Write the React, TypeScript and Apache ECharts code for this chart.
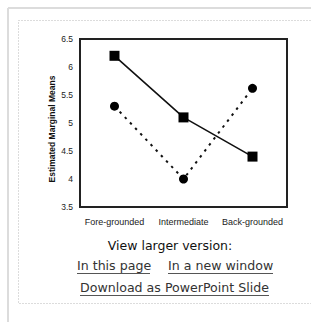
import React, { useEffect, useRef } from "react";
import * as echarts from "echarts";

const categories = ["Fore-grounded", "Intermediate", "Back-grounded"];
const squareSeries = [6.2, 5.1, 4.4];
const circleSeries = [5.3, 4.0, 5.62];
const yAxisTitle = "Estimated Marginal Means";
const captionTitle = "View larger version:";
const linkTexts = ["In this page", "In a new window", "Download as PowerPoint Slide"];

export default function App() {
  const ref = useRef<HTMLDivElement>(null);
  useEffect(() => {
    if (!ref.current) return;
    const chart = echarts.init(ref.current, null, { renderer: "svg" });
    const linkFont = { fontFamily: "DejaVu Sans", fontSize: 12.6, fill: "#333" };
    chart.setOption({
      animation: false,
      backgroundColor: "#fff",
      grid: {
        left: 80,
        right: 24,
        top: 39,
        bottom: 115,
        show: true,
        borderColor: "#222",
        borderWidth: 2,
        backgroundColor: "transparent",
      },
      xAxis: {
        type: "category",
        data: categories,
        boundaryGap: true,
        axisLine: { show: false },
        axisTick: { show: false },
        splitLine: { show: false },
        axisLabel: {
          margin: 10,
          fontSize: 9,
          fontFamily: "Liberation Sans",
          color: "#222",
          interval: 0,
        },
      },
      yAxis: {
        type: "value",
        min: 3.5,
        max: 6.5,
        interval: 0.5,
        axisLine: { show: false },
        axisTick: { show: false },
        splitLine: { show: false },
        axisLabel: {
          margin: 7,
          fontSize: 8.5,
          fontFamily: "Liberation Sans",
          color: "#222",
        },
      },
      series: [
        {
          type: "line",
          data: squareSeries,
          symbol: "rect",
          symbolSize: 10,
          lineStyle: { color: "#111", width: 1.6, type: "solid" },
          itemStyle: { color: "#000" },
          z: 3,
        },
        {
          type: "line",
          data: circleSeries,
          symbol: "circle",
          symbolSize: 9,
          lineStyle: { color: "#111", width: 2, type: [2.5, 5] },
          itemStyle: { color: "#000" },
          z: 2,
        },
      ],
      graphic: [
        {
          type: "line",
          shape: { x1: 8, y1: 8, x2: 311, y2: 8 },
          style: { stroke: "#dcdcdc", lineWidth: 2 },
        },
        {
          type: "line",
          shape: { x1: 8, y1: 8, x2: 8, y2: 322 },
          style: { stroke: "#dcdcdc", lineWidth: 2 },
        },
        {
          type: "rect",
          shape: { x: 18.5, y: 20.5, width: 320, height: 283 },
          style: { fill: "none", stroke: "#b8b8b8", lineWidth: 1, lineDash: [1, 2] },
        },
        {
          type: "text",
          x: 52,
          y: 129,
          rotation: Math.PI / 2,
          style: {
            text: yAxisTitle,
            fontFamily: "Liberation Sans",
            fontWeight: "bold",
            fontSize: 8.5,
            fill: "#111",
            align: "center",
            verticalAlign: "middle",
          },
        },
        {
          type: "text",
          x: 170,
          y: 245,
          style: {
            text: captionTitle,
            fontFamily: "DejaVu Sans",
            fontSize: 12.5,
            fill: "#111",
            align: "center",
            verticalAlign: "middle",
          },
        },
        {
          type: "text",
          x: 77,
          y: 265,
          style: { ...linkFont, text: linkTexts[0], align: "left", verticalAlign: "middle" },
        },
        {
          type: "line",
          shape: { x1: 77, y1: 273.5, x2: 150, y2: 273.5 },
          style: { stroke: "#555", lineWidth: 1 },
        },
        {
          type: "text",
          x: 168,
          y: 265,
          style: { ...linkFont, text: linkTexts[1], align: "left", verticalAlign: "middle" },
        },
        {
          type: "line",
          shape: { x1: 168, y1: 273.5, x2: 273, y2: 273.5 },
          style: { stroke: "#555", lineWidth: 1 },
        },
        {
          type: "text",
          x: 80,
          y: 287,
          style: { ...linkFont, text: linkTexts[2], align: "left", verticalAlign: "middle" },
        },
        {
          type: "line",
          shape: { x1: 80, y1: 295.5, x2: 269, y2: 295.5 },
          style: { stroke: "#555", lineWidth: 1 },
        },
      ],
    });
    return () => chart.dispose();
  }, []);
  return (
    <div
      ref={ref}
      style={{ position: "fixed", left: 0, top: 0, width: 311, height: 322, background: "#fff" }}
    />
  );
}
